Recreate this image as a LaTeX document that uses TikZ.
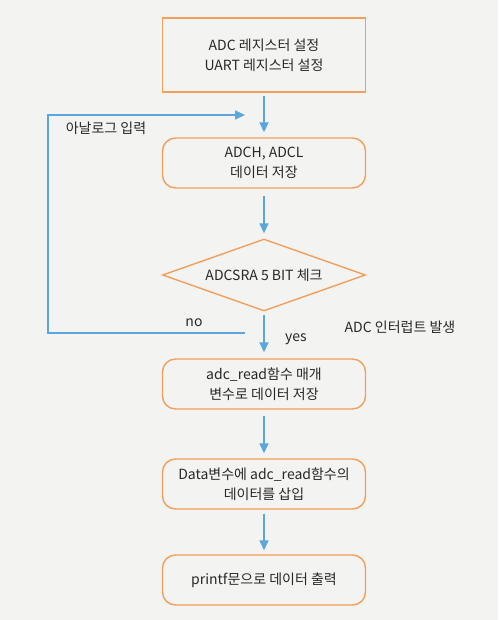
\documentclass[tikz,border=0pt]{standalone}
\usepackage{fontspec}
\setmainfont{Noto Sans CJK KR}
\usepackage{tikz}
\usetikzlibrary{shapes.geometric, arrows.meta}
\definecolor{boxorange}{RGB}{240,160,92}
\definecolor{flowblue}{RGB}{92,166,222}
\definecolor{paper}{RGB}{243,243,241}
\definecolor{ink}{RGB}{40,40,40}
\tikzstyle{arrow} = [flowblue,line width=1.6pt,-{Triangle[length=10pt,width=9pt]}]
\tikzstyle{box} = [draw=boxorange,line width=1.4pt,minimum width=203pt,align=center,text=ink,font=\fontsize{14}{20}\selectfont]
\tikzstyle{roundbox} = [box,rounded corners=13pt,minimum height=50pt]
\tikzstyle{label} = [text=ink,font=\fontsize{14}{20}\selectfont,inner sep=0pt]

\begin{document}
\begin{tikzpicture}[x=1pt,y=-1pt]
\fill[paper] (0,0) rectangle (498,620);
\useasboundingbox (0,0) rectangle (498,620);

\node[box,minimum height=74pt] (setup) at (264,55) {ADC 레지스터 설정\\UART 레지스터 설정};
\node[roundbox] (store) at (264,163) {ADCH, ADCL\\데이터 저장};
\node[box,diamond,aspect=2.82,minimum width=203pt,minimum height=72pt,inner sep=0pt] (check) at (264,275) {ADCSRA 5 BIT 체크};
\node[roundbox] (param) at (264,384) {adc\_read함수 매개\\변수로 데이터 저장};
\node[roundbox] (insert) at (264,484) {Data변수에 adc\_read함수의\\데이터를 삽입};
\node[roundbox] (print) at (264,580) {printf문으로 데이터 출력};

% loop back
\coordinate (nostart) at (245,333);
\coordinate (nocorner) at (48,333);
\coordinate (incorner) at (48,115);
\coordinate (inend) at (245,115);

\draw[arrow,shorten <=3pt,shorten >=5pt] (setup) -- (store);
\draw[arrow,shorten <=7pt,shorten >=5pt] (store) -- (check);
\draw[arrow,shorten <=3pt,shorten >=6pt] (check) -- (param);
\draw[arrow,shorten <=6pt,shorten >=5pt] (param) -- (insert);
\draw[arrow,shorten <=4pt,shorten >=4pt] (insert) -- (print);
\draw[arrow] (nostart) -- (nocorner) -- (incorner) -- (inend);

\node[label] (analog) at (106,128) {아날로그 입력};
\node[label] (nolabel) at (194,323) {no};
\node[label] (yeslabel) at (296,339) {yes};
\node[label] (interrupt) at (400,327) {ADC 인터럽트 발생};
\end{tikzpicture}
\end{document}
